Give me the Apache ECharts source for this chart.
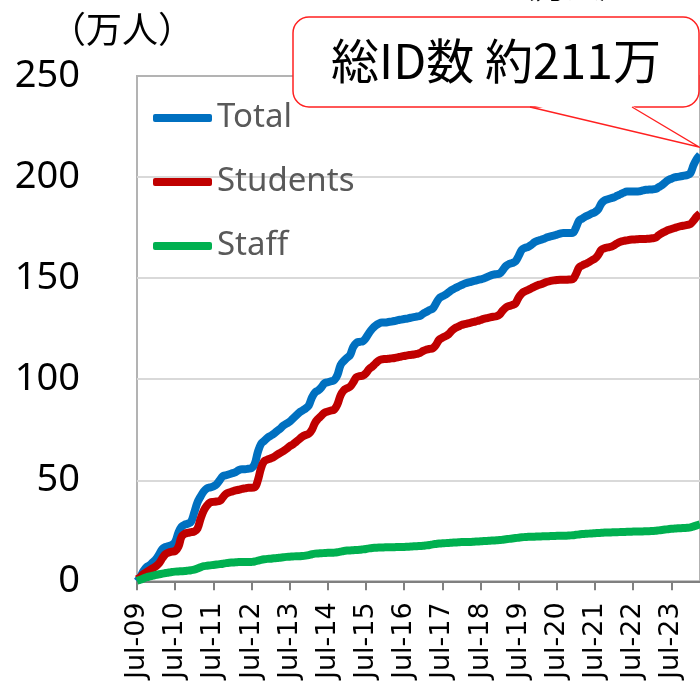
<!DOCTYPE html>
<html lang="ja">
<head>
    <meta charset="UTF-8">
    <title>ID数の推移</title>
    <script src="https://cdn.jsdelivr.net/npm/echarts@6/dist/echarts.min.js"></script>
    <style>
        html, body { margin: 0; padding: 0; background: #fff; }
        #chart { width: 700px; height: 682px; }
    </style>
</head>
<body>
<div id="chart"></div>
<script type="text/javascript">
    // tick labels, one per July (every 12 months from Jul-09)
    var yearLabels = ['Jul-09', 'Jul-10', 'Jul-11', 'Jul-12', 'Jul-13', 'Jul-14', 'Jul-15', 'Jul-16',
        'Jul-17', 'Jul-18', 'Jul-19', 'Jul-20', 'Jul-21', 'Jul-22', 'Jul-23'];
    var yTicks = [0, 50, 100, 150, 200, 250];

    // monthly values (万人), Jul-09 .. Apr-24
    var total = [
        0, 2, 5, 7, 8, 9.5, 11, 13.5, 16, 17, 17.5, 18,
        19.5, 24, 27, 28, 28.5, 29.5, 34, 39, 42, 44.5, 46, 46.5,
        47, 48, 50, 52, 52.5, 53, 53.5, 54, 55, 55.5, 55.5, 55.7,
        56, 58, 64, 68, 69.5, 71, 72, 73, 74.3, 75.5, 77, 78,
        79, 80.5, 82, 83.5, 84.5, 85.5, 87, 91, 93.5, 94.5, 96, 98,
        98.5, 99, 99.5, 102, 107, 109, 110.5, 112, 116, 118, 118.5, 118.8,
        120.5, 123, 125, 126.5, 127.5, 128, 128, 128.3, 128.5, 128.8, 129.2, 129.5,
        129.8, 130, 130.4, 130.7, 131, 131.3, 132.5, 133.3, 134.2, 135, 137.5, 140,
        141, 141.8, 143, 144.2, 145, 145.8, 146.5, 147.3, 147.8, 148.2, 148.6, 149,
        149.4, 149.8, 150.5, 151.2, 151.7, 152, 152.3, 154, 156, 157, 157.5, 158.3,
        161, 164, 165, 165.5, 166.5, 167.8, 168.5, 169, 169.5, 170.2, 170.7, 171,
        171.5, 172, 172.3, 172.3, 172.3, 172.4, 175, 178.5, 179.5, 180.5, 181.2, 182,
        182.7, 184, 187, 188.5, 189, 189.5, 190, 190.8, 191.5, 192.3, 192.8, 192.8,
        192.8, 192.8, 193, 193.4, 193.7, 193.8, 193.9, 194.1, 195, 196, 197.3, 198.5,
        199.2, 199.8, 200.1, 200.4, 200.7, 201, 202, 206, 209, 211
    ];
    var students = [
        1, 2, 3.5, 4.5, 5.5, 6.5, 7.5, 9, 11.5, 13.5, 14.3, 14.7,
        15, 17, 22, 23.5, 24, 24.3, 24.7, 26, 31, 35, 37.5, 39,
        39.3, 39.5, 39.8, 41.5, 43.3, 44, 44.5, 45, 45.3, 45.7, 46, 46.3,
        46.3, 46.5, 50, 56, 59.5, 60.2, 60.8, 61.5, 62.6, 63.5, 64.4, 65.5,
        66.8, 67.7, 69, 70.3, 71.6, 72.4, 73, 75, 78.5, 80.5, 82, 83.5,
        84, 84.5, 85, 87.5, 92, 94.5, 95.5, 96.3, 98.5, 101, 101.5, 101.8,
        103, 105, 106.3, 107.8, 109.2, 109.8, 110, 110.1, 110.3, 110.5, 110.8, 111.2,
        111.5, 111.8, 112, 112.2, 112.5, 113, 114, 114.6, 115, 115.3, 117, 119.5,
        120.5, 121.3, 122.3, 124, 125.3, 126, 126.8, 127.2, 127.6, 128, 128.4, 128.8,
        129.3, 129.8, 130.2, 130.6, 130.9, 131.1, 132, 134, 135.5, 136.2, 136.7, 137.5,
        140.5, 142.5, 143.5, 144.2, 145, 145.8, 146.5, 147, 147.6, 148.2, 148.6, 148.9,
        149.1, 149.2, 149.2, 149.2, 149.3, 149.5, 152, 155.3, 156.3, 157, 157.8, 158.8,
        159.7, 161.5, 164, 164.8, 165.2, 165.5, 166.3, 167.3, 168, 168.4, 168.7, 169,
        169.1, 169.2, 169.3, 169.3, 169.4, 169.5, 169.7, 170, 171.2, 172.2, 173, 173.8,
        174.3, 174.8, 175.3, 175.7, 176, 176.3, 176.8, 178.5, 180.5, 182
    ];
    var staff = [
        0.3, 0.8, 1.4, 2, 2.4, 2.8, 3.2, 3.5, 3.8, 4.1, 4.4, 4.6,
        4.8, 4.9, 5, 5.1, 5.3, 5.5, 5.8, 6.3, 7, 7.5, 7.7, 7.9,
        8.1, 8.3, 8.5, 8.7, 9, 9.2, 9.3, 9.4, 9.5, 9.5, 9.5, 9.5,
        9.6, 9.8, 10.2, 10.6, 10.9, 11.1, 11.2, 11.4, 11.5, 11.7, 11.9, 12.1,
        12.2, 12.3, 12.4, 12.4, 12.5, 12.7, 13, 13.4, 13.7, 13.8, 13.9, 14,
        14.1, 14.1, 14.2, 14.4, 14.7, 15, 15.2, 15.3, 15.4, 15.5, 15.6, 15.8,
        16, 16.3, 16.5, 16.6, 16.7, 16.7, 16.8, 16.8, 16.9, 16.9, 17, 17,
        17, 17.1, 17.2, 17.3, 17.4, 17.5, 17.6, 17.8, 18, 18.3, 18.5, 18.7,
        18.8, 18.9, 19, 19.1, 19.2, 19.3, 19.4, 19.4, 19.5, 19.5, 19.6, 19.7,
        19.8, 19.9, 20, 20.1, 20.2, 20.3, 20.4, 20.6, 20.8, 21, 21.2, 21.4,
        21.6, 21.8, 21.9, 22, 22.1, 22.1, 22.2, 22.2, 22.3, 22.3, 22.4, 22.4,
        22.5, 22.5, 22.6, 22.6, 22.7, 22.8, 23, 23.2, 23.4, 23.5, 23.6, 23.7,
        23.8, 23.9, 24, 24.1, 24.2, 24.2, 24.3, 24.3, 24.4, 24.4, 24.5, 24.5,
        24.6, 24.6, 24.7, 24.7, 24.8, 24.8, 24.9, 25, 25.2, 25.4, 25.6, 25.8,
        26, 26.1, 26.2, 26.3, 26.4, 26.5, 26.7, 27.2, 27.7, 28.2
    ];

    function toPoints(arr) {
        return arr.map(function (v, i) { return [i, v]; });
    }

    var myChart = echarts.init(document.getElementById('chart'));
    var option = {
        animation: false,
        backgroundColor: '#fff',
        grid: {
            left: 137, right: -3, top: 76, bottom: 100,
            show: true, borderColor: '#b3b3b3', borderWidth: 2
        },
        legend: {
            orient: 'vertical',
            left: 153,
            top: 98,
            padding: 0,
            icon: 'roundRect',
            itemWidth: 59,
            itemHeight: 8,
            itemGap: 24,
            textStyle: { color: '#595959', fontSize: 33, fontFamily: 'Noto Sans', lineHeight: 40 },
            data: ['Total', 'Students', 'Staff']
        },
        xAxis: {
            type: 'value',
            min: 0,
            max: total.length - 1,
            interval: 12,
            splitLine: { show: false },
            axisLine: { lineStyle: { color: '#808080', width: 2 } },
            axisTick: { show: true, length: 9, lineStyle: { color: '#808080', width: 2 } },
            axisLabel: {
                rotate: 90,
                margin: 21,
                color: '#000',
                fontSize: 27,
                fontFamily: 'DejaVu Sans',
                showMaxLabel: false,
                formatter: function (v) {
                    return v % 12 === 0 ? (yearLabels[v / 12] || '') : '';
                }
            }
        },
        yAxis: {
            type: 'value',
            min: yTicks[0],
            max: yTicks[yTicks.length - 1],
            interval: 50,
            axisLine: { show: false },
            axisTick: { show: false },
            splitLine: { showMinLine: false, showMaxLine: false, lineStyle: { color: '#d9d9d9', width: 2 } },
            axisLabel: { margin: 57, color: '#000', fontSize: 38, fontFamily: 'Noto Sans' }
        },
        series: [
            {
                name: 'Total', type: 'line', data: toPoints(total), showSymbol: false, symbol: 'none',
                smooth: 0.4, color: '#0070C0', lineStyle: { width: 8, color: '#0070C0' }
            },
            {
                name: 'Students', type: 'line', data: toPoints(students), showSymbol: false, symbol: 'none',
                smooth: 0.4, color: '#C00000', lineStyle: { width: 8, color: '#C00000' }
            },
            {
                name: 'Staff', type: 'line', data: toPoints(staff), showSymbol: false, symbol: 'none',
                smooth: 0.4, color: '#00B050', lineStyle: { width: 8, color: '#00B050' }
            }
        ],
        graphic: [
            {
                type: 'text', x: 122, y: 29, z: 10,
                style: {
                    text: '（万人）', fill: '#000', font: '36px "Noto Sans CJK JP"',
                    align: 'center', verticalAlign: 'middle'
                }
            },
            {
                // partly cut off title at the top
                type: 'text', left: 503, top: -30, z: 10,
                style: { text: '（万人）', fill: '#000', font: '32px "Noto Sans CJK JP"' }
            },
            {
                type: 'rect', z: 20,
                shape: { x: 293, y: 17, width: 406, height: 90, r: 16 },
                style: { fill: '#fff', stroke: '#ff2020', lineWidth: 1.5 }
            },
            {
                type: 'polygon', z: 21,
                shape: { points: [[531, 105], [631, 105], [699, 147]] },
                style: { fill: '#fff' }
            },
            {
                type: 'polyline', z: 22,
                shape: { points: [[530, 107], [699, 147], [632, 107]] },
                style: { stroke: '#ff2020', lineWidth: 1.3, fill: null }
            },
            {
                type: 'text', z: 23, x: 496, y: 61,
                style: {
                    text: '総ID数 約211万', fill: '#000', font: '48px "Noto Sans CJK JP"',
                    align: 'center', verticalAlign: 'middle'
                }
            }
        ]
    };
    myChart.setOption(option);
</script>
</body>
</html>
